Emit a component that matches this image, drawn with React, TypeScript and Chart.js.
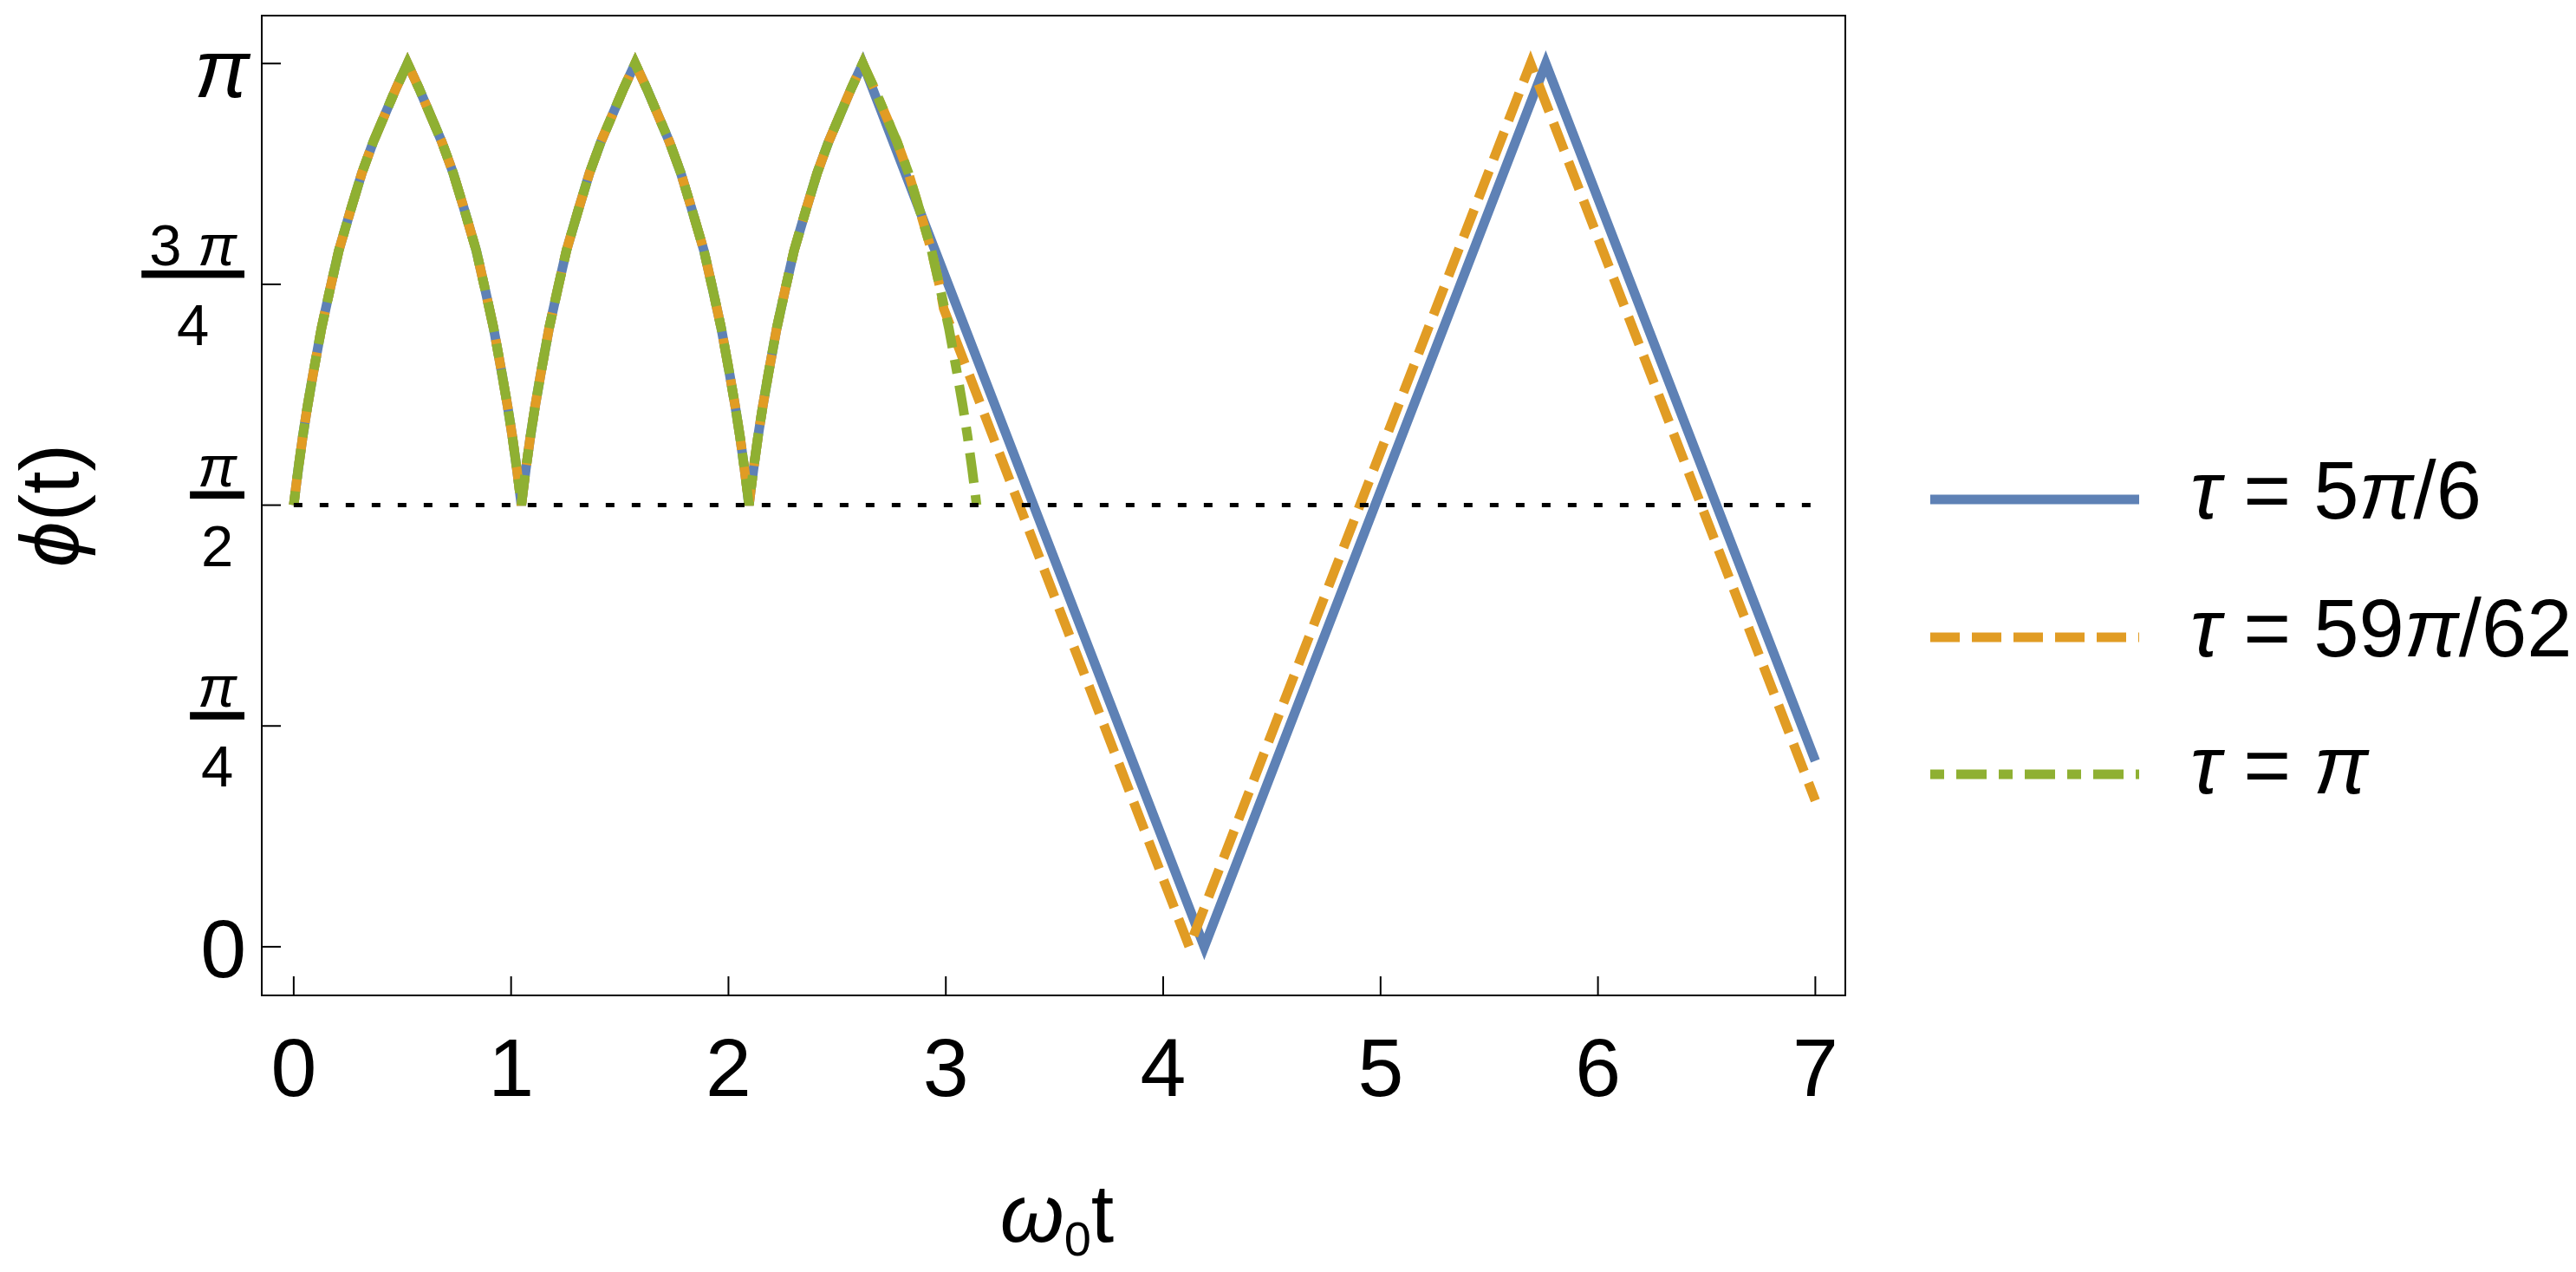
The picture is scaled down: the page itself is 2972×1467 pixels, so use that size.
import React, { useEffect, useRef } from 'react';
import { Chart, registerables } from 'chart.js';

Chart.register(...registerables);

const PI = Math.PI;

// ---- data ----
// shared arch shape (ω0t, ϕ) – three cusped arches between π/2 and π
const archT = [
  0, 0.0105, 0.0209, 0.0414, 0.0628, 0.089, 0.1278, 0.1676, 0.2073, 0.2618, 0.3136, 0.3665, 0.4199, 0.4712, 0.5236,
  0.576, 0.6273, 0.6807, 0.7336, 0.7854, 0.8399, 0.8796, 0.9194, 0.9582, 0.9844, 1.0058, 1.0263, 1.0367, 1.0472,
  1.0577, 1.0681, 1.0886, 1.11, 1.1362, 1.175, 1.2148, 1.2545, 1.309, 1.3608, 1.4137, 1.4671, 1.5184, 1.5708,
  1.6232, 1.6745, 1.7279, 1.7808, 1.8326, 1.8871, 1.9268, 1.9666, 2.0054, 2.0316, 2.053, 2.0735, 2.0839, 2.0944,
  2.1049, 2.1153, 2.1358, 2.1572, 2.1834, 2.2222, 2.262, 2.3017, 2.3562, 2.408, 2.4609, 2.5143, 2.5656, 2.618,
  2.6704, 2.7217, 2.7751, 2.828, 2.8798, 2.9343, 2.974, 3.0138, 3.0526, 3.0788, 3.1002, 3.1207, 3.1311, 3.1416,
];
const archPhi = [
  1.571, 1.637, 1.7, 1.814, 1.92, 2.037, 2.201, 2.341, 2.476, 2.62, 2.752, 2.864, 2.961, 3.054, 3.142,
  3.054, 2.961, 2.864, 2.752, 2.62, 2.476, 2.341, 2.201, 2.037, 1.92, 1.814, 1.7, 1.637, 1.571,
  1.637, 1.7, 1.814, 1.92, 2.037, 2.201, 2.341, 2.476, 2.62, 2.752, 2.864, 2.961, 3.054, 3.142,
  3.054, 2.961, 2.864, 2.752, 2.62, 2.476, 2.341, 2.201, 2.037, 1.92, 1.814, 1.7, 1.637, 1.571,
  1.637, 1.7, 1.814, 1.92, 2.037, 2.201, 2.341, 2.476, 2.62, 2.752, 2.864, 2.961, 3.054, 3.142,
  3.054, 2.961, 2.864, 2.752, 2.62, 2.476, 2.341, 2.201, 2.037, 1.92, 1.814, 1.7, 1.637, 1.571,
];

// τ = 5π/6 : follows the arches up to the third peak, then a triangle wave
const blueLeaveT = 2.618;
const blueTailT = [4.189, 5.76, 7.0];
const blueTailPhi = [0, 3.1416, 0.661];

// τ = 59π/62 : follows the arches a little longer
const orangeLeaveT = 2.974;
const orangeTailT = [2.99, 4.12, 5.69, 7.0];
const orangeTailPhi = [2.27, 0, 3.1416, 0.52];

// τ = π : arches only (ends at ω0t = π)
const greenLeaveT = 3.1416;

// reference line ϕ = π/2
const refT = [0, 7];
const refPhi = [PI / 2, PI / 2];

const xTicks = [0, 1, 2, 3, 4, 5, 6, 7];
const xTickLabels = ['0', '1', '2', '3', '4', '5', '6', '7'];
const yTicks = [0, PI / 4, PI / 2, (3 * PI) / 4, PI];
const yTickLabels = ['0', 'π/4', 'π/2', '3 π/4', 'π'];

const seriesLabels = ['τ = 5π/6', 'τ = 59π/62', 'τ = π'];
const seriesColors = ['#5E81B5', '#E19C24', '#8FB032'];
const seriesDash: number[][] = [[], [34, 14], [16, 14, 35, 14]];

// ---- helpers ----
const FONT = '"Liberation Sans", Arial, "DejaVu Sans", sans-serif';
const GREEK = /[πτωϕφ]/;

function pts(t: number[], p: number[]) {
  return t.map((x, i) => ({ x, y: p[i] }));
}
function arch(upTo: number) {
  const out: { x: number; y: number }[] = [];
  for (let i = 0; i < archT.length; i++) {
    if (archT[i] <= upTo + 1e-9) out.push({ x: archT[i], y: archPhi[i] });
  }
  return out;
}

function splitRuns(text: string) {
  const runs: { s: string; it: boolean }[] = [];
  for (const ch of text) {
    const it = GREEK.test(ch);
    if (runs.length && runs[runs.length - 1].it === it) runs[runs.length - 1].s += ch;
    else runs.push({ s: ch, it });
  }
  return runs;
}
function setFont(ctx: CanvasRenderingContext2D, size: number, it: boolean) {
  ctx.font = `${it ? 'italic ' : ''}${size}px ${FONT}`;
}
function richWidth(ctx: CanvasRenderingContext2D, text: string, size: number) {
  let w = 0;
  for (const r of splitRuns(text)) {
    setFont(ctx, size, r.it);
    w += ctx.measureText(r.s).width;
  }
  return w;
}
function drawRich(
  ctx: CanvasRenderingContext2D,
  text: string,
  x: number,
  y: number,
  size: number,
  align: 'left' | 'center' | 'right'
) {
  const w = richWidth(ctx, text, size);
  let cx = align === 'left' ? x : align === 'center' ? x - w / 2 : x - w;
  ctx.textAlign = 'left';
  ctx.textBaseline = 'alphabetic';
  for (const r of splitRuns(text)) {
    setFont(ctx, size, r.it);
    ctx.fillText(r.s, cx, y);
    cx += ctx.measureText(r.s).width;
  }
}

const miterPlugin = {
  id: 'miter',
  beforeDatasetsDraw(chart: any) {
    chart.ctx.miterLimit = 3;
  },
};

const decorPlugin = {
  id: 'decor',
  afterDraw(chart: any) {
    const ctx: CanvasRenderingContext2D = chart.ctx;
    const { left, right, top, bottom } = chart.chartArea;
    const xs = chart.scales.x;
    const ys = chart.scales.y;
    ctx.save();
    ctx.fillStyle = '#000';
    ctx.strokeStyle = '#000';
    ctx.setLineDash([]);
    ctx.lineCap = 'butt';

    // frame
    ctx.lineWidth = 2;
    ctx.strokeRect(left, top, right - left, bottom - top);

    // ticks
    const tl = 22;
    xTicks.forEach((v, i) => {
      const px = xs.getPixelForValue(v);
      ctx.beginPath();
      ctx.moveTo(px, bottom);
      ctx.lineTo(px, bottom - tl);
      ctx.stroke();
      drawRich(ctx, xTickLabels[i], px, bottom + 116, 95, 'center');
    });
    yTicks.forEach((v, i) => {
      const py = ys.getPixelForValue(v);
      ctx.beginPath();
      ctx.moveTo(left, py);
      ctx.lineTo(left + tl, py);
      ctx.stroke();
      const lab = yTickLabels[i];
      if (lab.includes('/')) {
        const [num, den] = lab.split('/');
        const size = 67;
        const barW = Math.max(richWidth(ctx, num, size), richWidth(ctx, den, size)) + 18;
        const rx = left - 20;
        const cx = rx - barW / 2;
        ctx.fillRect(rx - barW, py - 16, barW, 8.5);
        drawRich(ctx, num, cx, py - 22, size, 'center');
        drawRich(ctx, den, cx, py + 70, size, 'center');
      } else if (lab === '0') {
        drawRich(ctx, lab, left - 18, py + 35, 95, 'right');
      } else {
        drawRich(ctx, lab, left - 14, py + 39, 95, 'right');
      }
    });

    // x title ω0t
    {
      const big = 95;
      const small = 56;
      setFont(ctx, big, true);
      const w1 = ctx.measureText('ω').width;
      setFont(ctx, small, false);
      const w2 = ctx.measureText('0').width;
      setFont(ctx, big, false);
      const w3 = ctx.measureText('t').width;
      const total = w1 + w2 + w3;
      const cx = (left + right) / 2 + 4;
      let x0 = cx - total / 2;
      const base = bottom + 284;
      ctx.textAlign = 'left';
      ctx.textBaseline = 'alphabetic';
      setFont(ctx, big, true);
      ctx.fillText('ω', x0, base);
      x0 += w1;
      setFont(ctx, small, false);
      ctx.fillText('0', x0, base + 16);
      x0 += w2;
      setFont(ctx, big, false);
      ctx.fillText('t', x0, base);
    }

    // y title ϕ(t)
    ctx.save();
    ctx.translate(90, (top + bottom) / 2);
    ctx.rotate(-Math.PI / 2);
    drawRich(ctx, 'ϕ(t)', 0, 0, 95, 'center');
    ctx.restore();

    // legend
    const rows = [576, 735, 893];
    const lx0 = right + 98;
    const lx1 = right + 339;
    const tx = right + 398;
    rows.forEach((ry, i) => {
      ctx.save();
      ctx.strokeStyle = seriesColors[i];
      ctx.lineWidth = 11;
      ctx.lineCap = 'butt';
      ctx.setLineDash(seriesDash[i]);
      ctx.beginPath();
      ctx.moveTo(lx0, ry);
      ctx.lineTo(lx1, ry);
      ctx.stroke();
      ctx.restore();
      ctx.fillStyle = '#000';
      drawRich(ctx, seriesLabels[i], tx, ry + 22, 94, 'left');
    });

    ctx.restore();
  },
};

export default function App() {
  const ref = useRef<HTMLCanvasElement | null>(null);

  useEffect(() => {
    if (!ref.current) return;
    const blue = [...arch(blueLeaveT), ...pts(blueTailT, blueTailPhi)];
    const orange = [...arch(orangeLeaveT), ...pts(orangeTailT, orangeTailPhi)];
    const green = arch(greenLeaveT);
    const chart = new Chart(ref.current, {
      type: 'line',
      data: {
        datasets: [
          {
            label: 'ref',
            data: pts(refT, refPhi),
            borderColor: '#000',
            borderWidth: 5,
            borderDash: [10, 20],
            pointRadius: 0,
          },
          {
            label: seriesLabels[2],
            data: green,
            borderColor: seriesColors[2],
            borderWidth: 11,
            borderDash: seriesDash[2],
            pointRadius: 0,
          },
          {
            label: seriesLabels[1],
            data: orange,
            borderColor: seriesColors[1],
            borderWidth: 11,
            borderDash: seriesDash[1],
            pointRadius: 0,
          },
          {
            label: seriesLabels[0],
            data: blue,
            borderColor: seriesColors[0],
            borderWidth: 11,
            pointRadius: 0,
          },
        ],
      },
      options: {
        animation: false,
        responsive: false,
        events: [],
        layout: { padding: { left: 302, right: 843, top: 18, bottom: 319 } },
        elements: { line: { tension: 0, borderJoinStyle: 'miter', borderCapStyle: 'butt' } },
        scales: {
          x: { type: 'linear', min: -0.147, max: 7.138, display: false },
          y: { type: 'linear', min: -0.173, max: 3.312, display: false },
        },
        plugins: { legend: { display: false }, tooltip: { enabled: false } },
      },
      plugins: [miterPlugin, decorPlugin],
    });
    return () => chart.destroy();
  }, []);

  return (
    <div style={{ position: 'absolute', left: 0, top: 0, width: 2972, height: 1467, background: '#fff' }}>
      <canvas ref={ref} width={2972} height={1467} style={{ width: 2972, height: 1467 }} />
    </div>
  );
}
